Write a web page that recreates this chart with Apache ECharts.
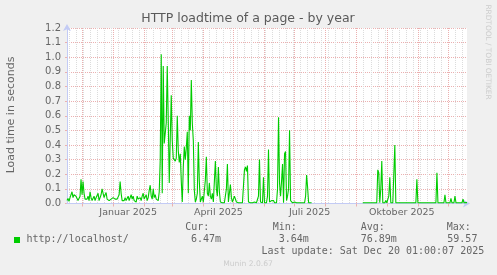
<!DOCTYPE html>
<html>
<head>
<meta charset="utf-8">
<script src="https://cdn.jsdelivr.net/npm/echarts@6/dist/echarts.min.js"></script>
<style>
html,body{margin:0;padding:0;background:#F0F0F0;}
#chart{width:497px;height:275px;}
</style>
</head>
<body>
<div id="chart"></div>
<script>
// ---- data ----
const startDate = '2024-11-16';   // first day on the x axis (one value per day)
const loadTime = [
  0.02, 0.035, 0.015, 0.04, 0.05, 0.08, 0.04, 0.06, 0.07, 0.05,
  0.06, 0.02, 0.01, 0.05, 0.165, 0.06, 0.15, 0.07, 0.03, 0.04,
  0.03, 0.05, 0.02, 0.08, 0.04, 0.02, 0.03, 0.05, 0.02, 0.04,
  0.03, 0.07, 0.02, 0.04, 0.06, 0.1, 0.07, 0.04, 0.06, 0.075,
  0.03, 0.04, 0.02, 0.03, 0.03, 0.02, 0.04, 0.03, 0.03, 0.02,
  0.03, 0.04, 0.06, 0.15, 0.07, 0.02, 0.03, 0.02, 0.04, 0.02,
  0.03, 0.05, 0.02, 0.04, 0.06, 0.03, 0.05, 0.02, 0.03, 0.01,
  0.05, 0.03, 0.02, 0.04, 0.02, 0.05, 0.07, 0.03, 0.04, 0.06,
  0.02, 0.04, 0.09, 0.125, 0.05, 0.03, 0.1, 0.04, 0.06, 0.03,
  0.04, 0.02, 0.08, 0.3, 1.02, 0.07, 0.94, 0.41, 0.48, 0.55,
  0.94, 0.57, 0.14, 0.45, 0.74, 0.43, 0.31, 0.30, 0.29, 0.31,
  0.6, 0.36, 0.28, 0.34, 0.15, 0.01, 0.25, 0.39, 0.3, 0.38,
  0.49, 0.07, 0.6, 0.5, 0.845, 0.55, 0.43, 0.09, 0.01, 0.03,
  0.07, 0.42, 0.15, 0.01, 0.03, 0.05, 0.01, 0.02, 0.16, 0.32,
  0.07, 0.05, 0.14, 0.05, 0.03, 0.07, 0.01, 0.02, 0.29, 0.1,
  0.05, 0.25, 0.08, 0.01, 0.005, 0.005, 0.005, 0.005, 0.005, 0.1,
  0.27, 0.01, 0.02, 0.13, 0.04, 0.01, 0.005, 0.05, 0.06, 0.01,
  0.005, 0.005, 0.005, 0.005, 0.005, 0.005, 0.005, 0.23, 0.25, 0.22,
  0.26, 0.01, 0.005, 0.005, 0.01, 0.005, 0.005, 0.01, 0.005, 0.005,
  0.005, 0.05, 0.30, 0.01, 0.005, 0.005, 0.18, 0.005, 0.01, 0.005,
  0.05, 0.37, 0.01, 0.02, 0.02, 0.03, 0.02, 0.005, 0.005, 0.005,
  0.1, 0.59, 0.14, 0.05, 0.15, 0.27, 0.005, 0.34, 0.355, 0.02,
  0.05, 0.1, 0.5, 0.02, 0.02, 0.005, 0.005, 0.01, 0.02, 0.005,
  0.005, 0.005, 0.005, 0.005, 0.005, 0.005, 0.005, 0.005, 0.05, 0.195,
  0.11, 0.005, 0.005, 0.005, 0.005, null, null, null, null, null,
  null, null, null, null, null, null, null, null, null, null,
  null, null, null, null, null, null, null, null, null, null,
  null, null, null, null, null, null, null, null, null, null,
  null, null, null, null, null, null, null, null, null, null,
  null, null, null, null, null, 0.005, 0.005, 0.005, 0.005, 0.005,
  0.005, 0.005, 0.005, 0.005, 0.005, 0.005, 0.005, 0.005, 0.005, 0.005,
  0.23, 0.21, 0.005, 0.1, 0.29, 0.005, 0.005, 0.005, 0.02, 0.005,
  0.005, 0.05, 0.18, 0.005, 0.005, 0.005, 0.005, 0.40, 0.005, 0.005,
  0.005, 0.005, 0.005, 0.005, 0.005, 0.005, 0.005, 0.005, 0.005, 0.005,
  0.005, 0.005, 0.005, 0.005, 0.005, 0.005, 0.005, 0.005, 0.005, 0.165,
  0.005, 0.005, 0.005, 0.005, 0.005, 0.005, 0.005, 0.005, 0.005, 0.005,
  0.005, 0.005, 0.005, 0.005, 0.005, 0.005, 0.005, 0.005, 0.005, 0.21,
  0.005, 0.005, 0.005, 0.005, 0.005, 0.005, 0.005, 0.06, 0.005, 0.005,
  0.005, 0.005, 0.005, 0.035, 0.005, 0.005, 0.005, 0.05, 0.005, 0.005,
  0.005, 0.005, 0.005, 0.005, 0.005, 0.03, 0.005, 0.005, 0.006, 0.006
];
const xLabelDates = ['2025-01-16', '2025-04-16', '2025-07-16', '2025-10-16'];
const xLabelTexts = ['Januar 2025', 'April 2025', 'Juli 2025', 'Oktober 2025'];
const yMin = 0, yMax = 1.2, yStep = 0.1;
const seriesName = 'http://localhost/';
const statLabels = ['Cur:', 'Min:', 'Avg:', 'Max:'];
const statValues = ['6.47m', '3.64m', '76.89m', '59.57'];
const titleText = 'HTTP loadtime of a page - by year';
const yAxisTitle = 'Load time in seconds';
const lastUpdate = 'Last update: Sat Dec 20 01:00:07 2025';
const footer = 'Munin 2.0.67';
const sideText = 'RRDTOOL / TOBI OETIKER';

// ---- categories (one per day) ----
function ymd(d) {
  const m = d.getUTCMonth() + 1, day = d.getUTCDate();
  return d.getUTCFullYear() + '-' + (m < 10 ? '0' : '') + m + '-' + (day < 10 ? '0' : '') + day;
}
const days = [];
const weekday = [];
{
  const d0 = new Date(startDate + 'T00:00:00Z');
  for (let i = 0; i < loadTime.length; i++) {
    const d = new Date(d0.getTime() + i * 86400000);
    days.push(ymd(d));
    weekday.push(d.getUTCDay());
  }
}
const isMonthStart = (i, v) => days[i].slice(8) === '01';
const isMonday = (i, v) => weekday[i] === 1 && days[i].slice(8) !== '01';
const isLabel = (i, v) => xLabelDates.indexOf(days[i]) >= 0;

const FONT = 'DejaVu Sans';
const MONO = 'DejaVu Sans Mono';
const TXT = '#666666';
const MGRID = '#ebb0b0';
const GRID = '#dcdcdc';
const AXIS = '#c3cbf5';

const chart = echarts.init(document.getElementById('chart'), null, {renderer: 'canvas'});

const graphics = [
  {type: 'text', x: 248, y: 19, style: {text: titleText, font: '12.5px ' + FONT, fill: '#5a5a5a', align: 'center', verticalAlign: 'middle'}},
  {type: 'text', x: 11, y: 115, rotation: Math.PI / 2, style: {text: yAxisTitle, font: '11px ' + FONT, fill: TXT, align: 'center', verticalAlign: 'middle'}},
  {type: 'text', x: 487.5, y: 52, rotation: -Math.PI / 2, style: {text: sideText, font: '7.4px ' + FONT, fill: '#cccccc', align: 'center', verticalAlign: 'middle'}},
  {type: 'rect', shape: {x: 14, y: 237, width: 6, height: 6}, style: {fill: '#00cc00'}},
  {type: 'text', x: 26.5, y: 239.5, style: {text: seriesName, font: '10px ' + MONO, fill: TXT, align: 'left', verticalAlign: 'middle'}},
  {type: 'text', x: 261.5, y: 251.7, style: {text: lastUpdate, font: '10px ' + MONO, fill: TXT, align: 'left', verticalAlign: 'middle'}},
  {type: 'text', x: 248, y: 264, style: {text: footer, font: '7.6px ' + FONT, fill: '#cccccc', align: 'center', verticalAlign: 'middle'}}
];
const labelX = [185.3, 272.7, 360.7, 446.7];
const valueX = [191, 278.7, 360.7, 447.3];
statLabels.forEach((t, k) => {
  graphics.push({type: 'text', x: labelX[k], y: 227.3, style: {text: t, font: '10px ' + MONO, fill: TXT, align: 'left', verticalAlign: 'middle'}});
  graphics.push({type: 'text', x: valueX[k], y: 239.5, style: {text: statValues[k], font: '10px ' + MONO, fill: TXT, align: 'left', verticalAlign: 'middle'}});
});

const option = {
  animation: false,
  backgroundColor: '#F0F0F0',
  grid: {left: 67, top: 28, width: 400, height: 175.5, show: true, backgroundColor: '#ffffff', borderWidth: 0, containLabel: false},
  xAxis: [
    {
      type: 'category', data: days, boundaryGap: false,
      axisLine: {show: true, lineStyle: {color: AXIS, width: 1}, symbol: ['none', 'arrow'], symbolSize: [6, 7], symbolOffset: [0, 3]},
      axisTick: {show: true, interval: isMonthStart, length: 3, lineStyle: {color: MGRID}},
      axisLabel: {show: true, interval: isLabel, formatter: (v) => { const k = xLabelDates.indexOf(v); return k >= 0 ? xLabelTexts[k] : ''; },
        color: TXT, fontFamily: FONT, fontSize: 9.5, margin: 4},
      splitLine: {show: true, interval: isMonthStart, lineStyle: {color: MGRID, type: [1, 1], width: 1}},
      z: 1
    },
    {
      type: 'category', data: days, boundaryGap: false, position: 'bottom',
      axisLine: {show: false}, axisTick: {show: false}, axisLabel: {show: false},
      splitLine: {show: true, interval: isMonday, lineStyle: {color: GRID, type: [1, 1], width: 1}},
      z: 0
    }
  ],
  yAxis: {
    type: 'value', min: yMin, max: yMax, interval: yStep,
    axisLine: {show: true, lineStyle: {color: AXIS, width: 1}, symbol: ['none', 'arrow'], symbolSize: [6, 7], symbolOffset: [0, 4]},
    axisTick: {show: true, length: 2, lineStyle: {color: MGRID}},
    axisLabel: {formatter: (v) => v.toFixed(1), color: TXT, fontFamily: FONT, fontSize: 10, margin: 6},
    splitLine: {show: true, lineStyle: {color: MGRID, type: [1, 1], width: 1}}
  },
  series: [{
    name: seriesName, type: 'line', xAxisIndex: 0, data: loadTime,
    showSymbol: false, symbol: 'none', connectNulls: false,
    lineStyle: {color: '#00cc00', width: 1.1}, z: 5
  }],
  graphic: graphics
};
chart.setOption(option);
</script>
</body>
</html>
